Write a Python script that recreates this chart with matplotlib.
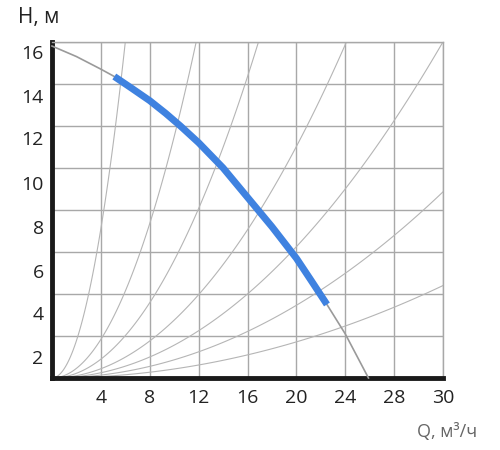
import numpy as np
import matplotlib
matplotlib.use("Agg")
import matplotlib.pyplot as plt

plt.rcParams['font.family'] = ['Open Sans', 'DejaVu Sans']

# pump curve (Q, H)
pump_q = [0, 2, 4, 5.1, 6.5, 8, 9.3, 10.5, 12, 13, 14, 15, 16, 17, 18, 19, 20, 21.2, 22.5, 24, 25.9]
pump_h = [15.8, 15.3, 14.7, 14.35, 13.8, 13.2, 12.6, 12.0, 11.2, 10.6, 10.0, 9.3, 8.6, 7.9, 7.2, 6.45, 5.7, 4.65, 3.5, 2.1, 0.0]
blue_from, blue_to = 3, 18  # indices of the highlighted part

# system curves: point where each parabola leaves the chart
sys_exit_q = [6.0, 11.8, 16.9, 24.1, 32, 32, 32]
sys_exit_h = [16, 16, 16, 16, 16, 8.86, 4.4]

x_ticks = [4, 8, 12, 16, 20, 24, 28, 32]
x_labels = ['4', '8', '12', '16', '20', '24', '28', '30']
y_grid = [2, 4, 6, 8, 10, 12, 14, 16]
y_labels = ['2', '4', '6', '8', '10', '12', '14', '16']
y_label_pos = [1.0, 3.1, 5.1, 7.2, 9.3, 11.4, 13.4, 15.5]

fig = plt.figure(figsize=(5, 4.5), dpi=100)
ax = fig.add_axes([0.104, 0.16, 0.782, 0.747])
ax.set_xlim(0, 32)
ax.set_ylim(0, 16)

grid_c = '#a8a8a8'
for x in x_ticks:
    ax.axvline(x, color=grid_c, lw=1, zorder=1)
for y in y_grid:
    ax.axhline(y, color=grid_c, lw=1, zorder=1)

for qe, he in zip(sys_exit_q, sys_exit_h):
    q = np.linspace(0, qe, 100)
    ax.plot(q, he * (q / qe) ** 2, color='#b5b5b5', lw=0.8, zorder=2)

ax.plot(pump_q, pump_h, color='#9a9a9a', lw=1.2, zorder=3, clip_on=False)
ax.plot(pump_q[blue_from:blue_to + 1], pump_h[blue_from:blue_to + 1],
        color='#3f82e0', lw=5, solid_capstyle='butt', solid_joinstyle='round', zorder=4)

ax.set_xticks(x_ticks)
ax.set_xticklabels(x_labels)
ax.set_yticks(y_label_pos)
ax.set_yticklabels(y_labels)
ax.tick_params(length=0, labelsize=14, colors='#222222', pad=8)
ax.tick_params(axis='y', pad=6)

for s in ['top', 'right']:
    ax.spines[s].set_color(grid_c)
    ax.spines[s].set_linewidth(1)
for s in ['left', 'bottom']:
    ax.spines[s].set_color('#1a1a1a')
    ax.spines[s].set_linewidth(3.5)

fig.text(0.035, 0.96, 'H, м', fontsize=15, color='#222222', va='center')
fig.text(0.955, 0.04, 'Q, м³/ч', fontsize=13, color='#666666', ha='right', va='center')

fig.savefig('out.png', dpi=100)
